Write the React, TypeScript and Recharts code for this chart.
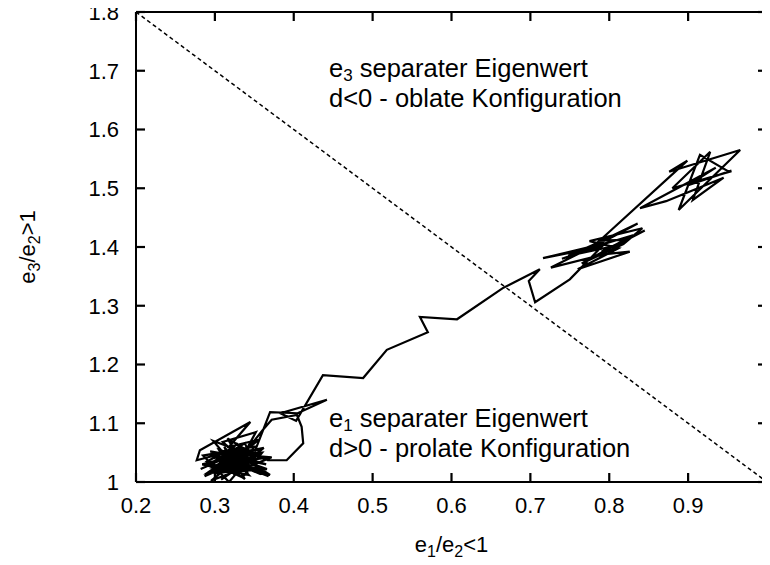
import { LineChart, Line, XAxis, YAxis, ReferenceDot } from 'recharts';

const FONT = "'Liberation Sans', Arial, Helvetica, sans-serif";

const xTicks = [0.2, 0.3, 0.4, 0.5, 0.6, 0.7, 0.8, 0.9, 1];
const yTicks = [1, 1.1, 1.2, 1.3, 1.4, 1.5, 1.6, 1.7, 1.8];

// trajectory in plotting order
const lowCluster: [number, number][] = [
  [0.315, 1.03], [0.34, 1.048], [0.3, 1.022], [0.352, 1.04], [0.322, 1.058], [0.29, 1.035],
  [0.335, 1.008], [0.36, 1.05], [0.31, 1.045], [0.345, 1.028], [0.295, 1.002], [0.33, 1.04],
  [0.365, 1.03], [0.305, 1.055], [0.325, 1.012], [0.35, 1.06], [0.285, 1.045], [0.318, 1.0],
  [0.342, 1.038], [0.3, 1.05], [0.372, 1.042], [0.328, 1.018], [0.292, 1.03], [0.338, 1.066],
  [0.355, 1.015], [0.312, 1.04], [0.282, 1.022], [0.332, 1.052], [0.368, 1.01], [0.32, 1.035],
  [0.298, 1.07], [0.348, 1.045], [0.308, 1.004], [0.336, 1.03], [0.362, 1.058], [0.296, 1.04],
  [0.326, 1.048], [0.354, 1.025], [0.304, 1.015], [0.344, 1.062], [0.287, 1.01], [0.33, 1.035],
  [0.358, 1.04], [0.316, 1.074], [0.34, 1.02], [0.302, 1.045], [0.37, 1.012], [0.334, 1.043],
  [0.294, 1.052], [0.346, 1.035], [0.322, 1.022], [0.312, 1.06], [0.338, 1.005], [0.306, 1.035],
  [0.328, 1.065], [0.35, 1.028], [0.298, 1.025], [0.322, 1.045], [0.343, 1.012], [0.314, 1.02],
  [0.284, 1.03], [0.356, 1.055], [0.308, 1.05], [0.366, 1.022], [0.29, 1.015], [0.336, 1.058],
  [0.277, 1.037], [0.281, 1.054], [0.345, 1.102], [0.318, 1.06], [0.356, 1.072], [0.33, 1.045],
  [0.31, 1.068], [0.352, 1.085], [0.338, 1.05], [0.361, 1.089], [0.372, 1.106], [0.404, 1.114],
  [0.41, 1.094], [0.412, 1.066], [0.391, 1.037], [0.367, 1.037], [0.35, 1.05], [0.37, 1.119],
  [0.405, 1.117], [0.442, 1.14], [0.383, 1.117], [0.403, 1.104],
];

const ridge: [number, number][] = [
  [0.437, 1.182], [0.488, 1.177], [0.518, 1.225], [0.57, 1.255], [0.56, 1.281], [0.607, 1.277],
  [0.665, 1.33], [0.712, 1.362], [0.698, 1.342], [0.706, 1.306], [0.75, 1.345],
];

const midCluster: [number, number][] = [
  [0.79, 1.4], [0.74, 1.38], [0.8, 1.408], [0.716, 1.381], [0.768, 1.395], [0.83, 1.42],
  [0.765, 1.372], [0.818, 1.405], [0.842, 1.432], [0.775, 1.41], [0.812, 1.398], [0.76, 1.362],
  [0.826, 1.392], [0.795, 1.388], [0.726, 1.365], [0.805, 1.418], [0.836, 1.44], [0.782, 1.405],
  [0.748, 1.385], [0.808, 1.402], [0.845, 1.428], [0.79, 1.392], [0.82, 1.412], [0.788, 1.411],
];

const highCluster: [number, number][] = [
  [0.899, 1.547], [0.876, 1.528], [0.966, 1.565], [0.888, 1.463], [0.915, 1.557], [0.952, 1.528],
  [0.88, 1.5], [0.928, 1.562], [0.906, 1.48], [0.945, 1.518], [0.872, 1.478], [0.839, 1.466],
  [0.935, 1.535], [0.9, 1.505], [0.955, 1.53],
];

const diagonalX = [0.2, 1];
const diagonalY = [1.8, 1];

const path = [...lowCluster, ...ridge, ...midCluster, ...highCluster].map(([x, y]) => ({ x, y }));
const diagonal = diagonalX.map((x, i) => ({ x, y: diagonalY[i] }));

const fmt = (v: number) => String(Number(v.toFixed(1)));

const TICK_LEN = 9;
const X_GAP = 15;
const Y_GAP = 17;
const TICK_COLOR = '#000';
const edge = { stroke: '#000', strokeWidth: 2 };
const blankTick = () => <g />;

// bottom tick: inward mark on the axis plus the number below it
function BottomTick({ x, y, payload }: any) {
  const axisY = y - X_GAP;
  return (
    <g>
      <line x1={x} x2={x} y1={axisY} y2={axisY - TICK_LEN} stroke={TICK_COLOR} strokeWidth={2.2} />
      <text x={x} y={y} dy="0.71em" textAnchor="middle" fontSize={22} fontFamily={FONT} fill="#000">
        {fmt(payload.value)}
      </text>
    </g>
  );
}

function LeftTick({ x, y, payload }: any) {
  const axisX = x + Y_GAP;
  return (
    <g>
      <line x1={axisX} x2={axisX + TICK_LEN} y1={y} y2={y} stroke={TICK_COLOR} strokeWidth={2.2} />
      <text x={x} y={y} dy="0.355em" textAnchor="end" fontSize={22} fontFamily={FONT} fill="#000">
        {fmt(payload.value)}
      </text>
    </g>
  );
}

function Annotation({ viewBox, sub, first, second }: any) {
  const { x, y } = viewBox;
  return (
    <g>
      <text x={x} y={y} fontSize={25.5} fontFamily={FONT} fill="#000" style={{ whiteSpace: 'pre' }}>
        <tspan>e</tspan>
        <tspan dy={4} fontSize={17}>{sub}</tspan>
        <tspan dy={-4}>{first}</tspan>
      </text>
      <text x={x} y={y + 30} fontSize={25.5} fontFamily={FONT} fill="#000">{second}</text>
    </g>
  );
}

function XLabel({ viewBox }: any) {
  const cx = viewBox.x + viewBox.width / 2;
  return (
    <text x={cx} y={viewBox.y + 70} textAnchor="middle" fontSize={22} fontFamily={FONT} fill="#000">
      <tspan>e</tspan>
      <tspan dy={5} fontSize={16}>1</tspan>
      <tspan dy={-5}>/e</tspan>
      <tspan dy={5} fontSize={16}>2</tspan>
      <tspan dy={-5}>{'<1'}</tspan>
    </text>
  );
}

function YLabel({ viewBox }: any) {
  const cy = viewBox.y + viewBox.height / 2;
  const bx = 35;
  return (
    <text x={bx} y={cy} transform={`rotate(-90, ${bx}, ${cy})`} textAnchor="middle" fontSize={22} fontFamily={FONT} fill="#000">
      <tspan>e</tspan>
      <tspan dy={5} fontSize={16}>3</tspan>
      <tspan dy={-5}>/e</tspan>
      <tspan dy={5} fontSize={16}>2</tspan>
      <tspan dy={-5}>{'>1'}</tspan>
    </text>
  );
}

export default function App() {
  return (
    <div style={{ margin: -8, width: 770, height: 565, background: '#fff', fontFamily: FONT }}>
      <LineChart width={770} height={565} margin={{ top: 12, right: 3, bottom: 23, left: 0 }}>
        <XAxis
          dataKey="x" type="number" domain={[0.2, 1]} ticks={xTicks} allowDataOverflow interval={0}
          tick={<BottomTick />} tickLine={false} tickSize={0} tickMargin={X_GAP}
          axisLine={edge} height={60}
          label={(p: any) => <XLabel {...p} />}
        />
        <YAxis
          dataKey="y" type="number" domain={[1, 1.8]} ticks={yTicks} allowDataOverflow interval={0}
          tick={<LeftTick />} tickLine={false} tickSize={0} tickMargin={Y_GAP}
          axisLine={edge} width={136}
          label={(p: any) => <YLabel {...p} />}
        />
        <XAxis xAxisId="t" orientation="top" mirror dataKey="x" type="number" domain={[0.2, 1]} ticks={xTicks}
          allowDataOverflow interval={0} tick={blankTick} tickSize={TICK_LEN} axisLine={edge}
          tickLine={{ stroke: TICK_COLOR, strokeWidth: 2.2 }} />
        <YAxis yAxisId="r" orientation="right" mirror dataKey="y" type="number" domain={[1, 1.8]} ticks={yTicks}
          allowDataOverflow interval={0} tick={blankTick} tickSize={TICK_LEN} axisLine={edge}
          tickLine={{ stroke: TICK_COLOR, strokeWidth: 2.2 }} />
        <Line data={diagonal} xAxisId="t" yAxisId="r" dataKey="y" stroke="#000" strokeWidth={1.5}
          strokeDasharray="4 3" dot={false} isAnimationActive={false} />
        <Line data={path} dataKey="y" stroke="#000" strokeWidth={2.2} strokeLinejoin="miter"
          dot={false} isAnimationActive={false} />
        <ReferenceDot x={0.4447} y={1.69} r={0} fill="none" stroke="none"
          label={(p: any) => <Annotation {...p} sub="3" first=" separater Eigenwert" second="d<0 - oblate Konfiguration" />} />
        <ReferenceDot x={0.4447} y={1.094} r={0} fill="none" stroke="none"
          label={(p: any) => <Annotation {...p} sub="1" first=" separater Eigenwert" second="d>0 - prolate Konfiguration" />} />
      </LineChart>
    </div>
  );
}
